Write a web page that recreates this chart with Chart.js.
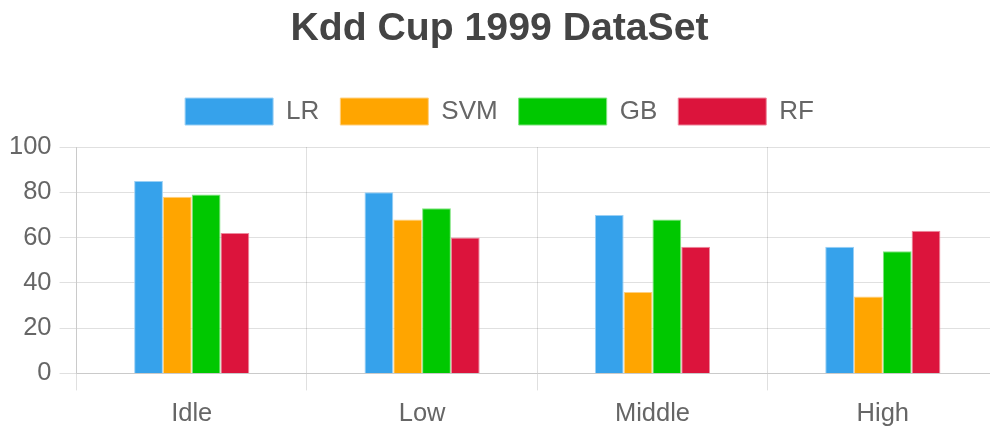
<!DOCTYPE html>
<html>
<head>
<meta charset="utf-8">
<script src="https://cdn.jsdelivr.net/npm/chart.js@4/dist/chart.umd.min.js"></script>
<style>
  html, body { margin: 0; padding: 0; background: #fff; overflow: hidden; }
  #wrap { width: 1004px; height: 437px; }
</style>
</head>
<body>
<div id="wrap"><canvas id="kddChart"></canvas></div>
<script>
const categories = ["Idle", "Low", "Middle", "High"];
const lrValues = [85, 80, 70, 56];
const svmValues = [78, 68, 36, 34];
const gbValues = [79, 73, 68, 54];
const rfValues = [62, 60, 56, 63];
const yTicks = [0, 20, 40, 60, 80, 100];

Chart.defaults.font.family = "'Liberation Sans', Arial, sans-serif";
Chart.defaults.color = "#666";

// a bit of extra room under the legend
const legendMargin = {
  id: "legendMargin",
  beforeInit(chart) {
    const fit = chart.legend.fit;
    chart.legend.fit = function () {
      fit.bind(chart.legend)();
      this.height += 12;
    };
  },
};

const ctx = document.getElementById("kddChart").getContext("2d");
new Chart(ctx, {
  type: "bar",
  data: {
    labels: categories,
    datasets: [
      { label: "LR", data: lrValues, backgroundColor: "#36a2eb", borderColor: "#9ad0f5", borderWidth: 1 },
      { label: "SVM", data: svmValues, backgroundColor: "#ffa500", borderColor: "#ffd080", borderWidth: 1 },
      { label: "GB", data: gbValues, backgroundColor: "#00c800", borderColor: "#80e480", borderWidth: 1 },
      { label: "RF", data: rfValues, backgroundColor: "#dc143c", borderColor: "#ee8a9e", borderWidth: 1 },
    ],
  },
  plugins: [legendMargin],
  options: {
    responsive: true,
    maintainAspectRatio: false,
    animation: false,
    layout: { padding: { left: 1, right: 6, top: 0, bottom: 0 } },
    datasets: { bar: { barPercentage: 1.0, categoryPercentage: 0.5 } },
    scales: {
      x: {
        grid: { offset: true, color: "rgba(0,0,0,0.12)", tickLength: 17 },
        ticks: { font: { size: 25.5 }, color: "#666", padding: 8 },
      },
      y: {
        min: 0,
        max: 100,
        afterBuildTicks: (axis) => { axis.ticks = yTicks.map((v) => ({ value: v })); },
        grid: { color: "rgba(0,0,0,0.12)", tickLength: 17 },
        ticks: { font: { size: 25.5 }, color: "#666", padding: 8 },
      },
    },
    plugins: {
      title: {
        display: true,
        text: "Kdd Cup 1999 DataSet",
        font: { size: 39.2, weight: "bold" },
        color: "#444",
        padding: { top: 6, bottom: 24 },
      },
      legend: {
        position: "top",
        labels: { boxWidth: 88, boxHeight: 27, font: { size: 26 }, color: "#666", padding: 21 },
      },
      tooltip: { enabled: false },
    },
  },
});
</script>
</body>
</html>
